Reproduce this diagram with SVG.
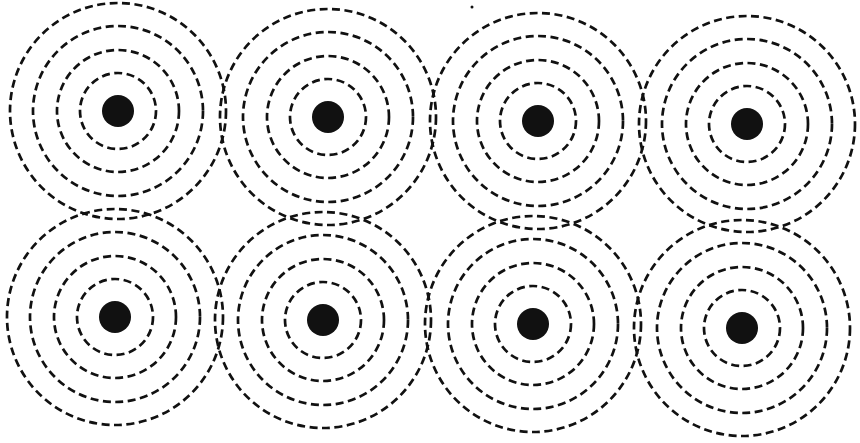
<svg xmlns="http://www.w3.org/2000/svg" width="860" height="443" viewBox="0 0 860 443">
<defs>
<style>
.r{fill:none;stroke:#111;stroke-width:2.7;stroke-dasharray:8 4.5}
.d{fill:#111}
</style>
<g id="s">
<circle class="r" r="38"/>
<circle class="r" r="61"/>
<circle class="r" r="85"/>
<circle class="r" r="108"/>
<circle class="d" r="16"/>
</g>
</defs>
<rect width="860" height="443" fill="#fff"/>
<g id="n1"><use href="#s" x="118" y="111"/></g>
<g id="n2"><use href="#s" x="328" y="117"/></g>
<g id="n3"><use href="#s" x="538" y="121"/></g>
<g id="n4"><use href="#s" x="747" y="124"/></g>
<g id="n5"><use href="#s" x="115" y="317"/></g>
<g id="n6"><use href="#s" x="323" y="320"/></g>
<g id="n7"><use href="#s" x="533" y="324"/></g>
<g id="n8"><use href="#s" x="742" y="328"/></g>
<circle class="d" cx="472" cy="7" r="1.5"/>
</svg>
